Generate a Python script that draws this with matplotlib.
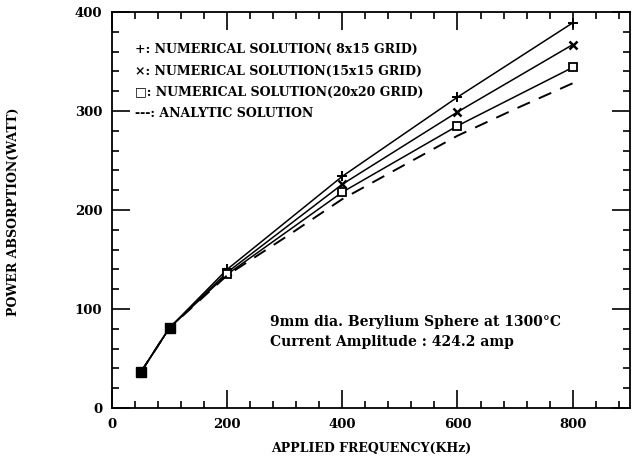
import matplotlib
matplotlib.use('Agg')
import matplotlib.pyplot as plt
from matplotlib.ticker import MultipleLocator

# Frequency (kHz) and power absorption (W)
freq = [50, 100, 200, 400, 600, 800]
num_8x15 = [36, 81, 140, 234, 314, 389]
num_15x15 = [36, 81, 137, 226, 299, 367]
num_20x20 = [36, 81, 135, 218, 285, 344]
analytic_freq = [50, 100, 200, 300, 400, 500, 600, 700, 800]
analytic = [36, 81, 134, 172, 211, 243, 275, 302, 328]

legend_lines = [
    '+: NUMERICAL SOLUTION( 8x15 GRID)',
    '\u00d7: NUMERICAL SOLUTION(15x15 GRID)',
    '\u25a1: NUMERICAL SOLUTION(20x20 GRID)',
    '---: ANALYTIC SOLUTION',
]

font = dict(family='DejaVu Serif', fontweight='bold', fontsize=9)

fig = plt.figure(figsize=(6.36, 4.61), dpi=100)
ax = fig.add_axes([0.176, 0.115, 0.815, 0.859])

ax.plot(freq, num_8x15, 'k-', lw=1.1, marker='+', ms=7, mew=1.4)
ax.plot(freq, num_15x15, 'k-', lw=1.1, marker='x', ms=6, mew=1.8)
ax.plot(freq, num_20x20, 'k-', lw=1.1, marker='s', ms=6, mfc='white', mew=1.3)
ax.plot(analytic_freq, analytic, 'k--', lw=1.4, dashes=(7, 5))
# data points at low frequency overlap into filled blobs
ax.plot(freq[:2], num_20x20[:2], 'ks', ms=7)

ax.set_xlim(0, 900)
ax.set_ylim(0, 400)
ax.set_xticks([0, 200, 400, 600, 800])
ax.set_yticks([0, 100, 200, 300, 400])
ax.xaxis.set_minor_locator(MultipleLocator(40))
ax.yaxis.set_minor_locator(MultipleLocator(20))
ax.tick_params(which='both', direction='in', top=True, right=True,
               width=1.2, pad=7)
ax.tick_params(which='major', length=13)
ax.tick_params(which='minor', length=5)
for lab in ax.get_xticklabels() + ax.get_yticklabels():
    lab.set_fontfamily('DejaVu Serif')
    lab.set_fontweight('bold')
    lab.set_fontsize(9.5)
for sp in ax.spines.values():
    sp.set_linewidth(1.3)

ax.set_xlabel('APPLIED FREQUENCY(KHz)', labelpad=8, **font)
fig.text(0.021, 0.54, 'POWER ABSORPTION(WATT)', rotation=90,
         va='center', ha='center', **font)

for i, txt in enumerate(legend_lines):
    ax.text(0.045, 0.905 - i * 0.054, txt, transform=ax.transAxes,
            va='center', ha='left', **font)

ax.text(0.305, 0.218, '9mm dia. Berylium Sphere at 1300\u00b0C',
        transform=ax.transAxes, va='center', ha='left',
        family='DejaVu Serif', fontweight='bold', fontsize=10)
ax.text(0.305, 0.166, 'Current Amplitude : 424.2 amp',
        transform=ax.transAxes, va='center', ha='left',
        family='DejaVu Serif', fontweight='bold', fontsize=10)

fig.savefig('out.png', dpi=100)
